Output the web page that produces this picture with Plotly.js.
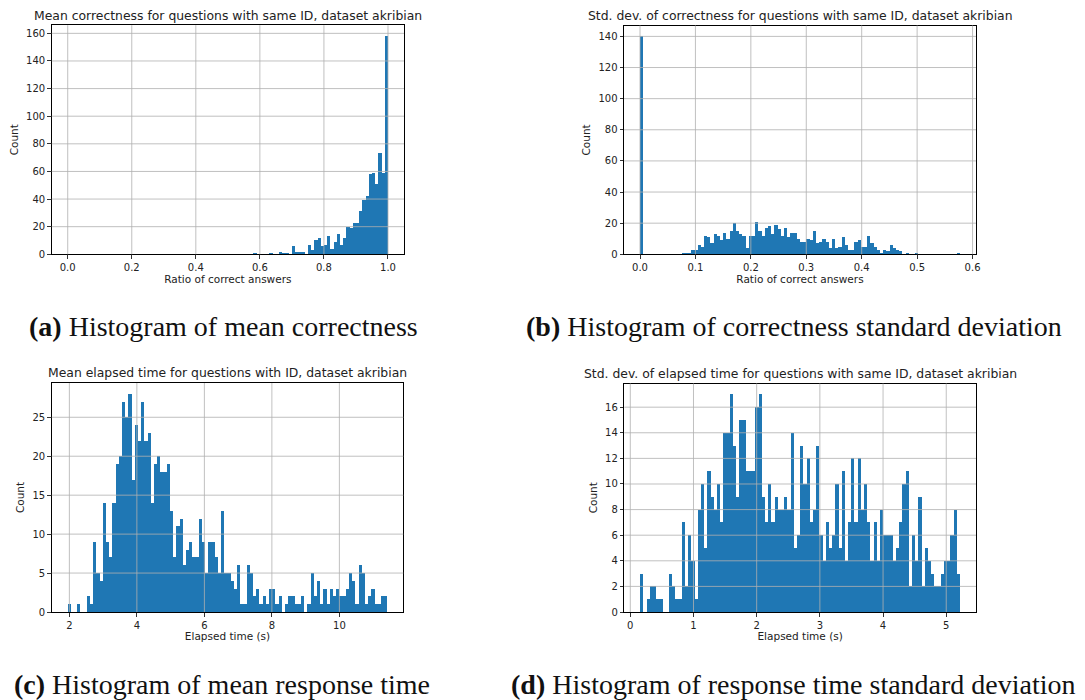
<!DOCTYPE html>
<html><head><meta charset="utf-8">
<script src="https://cdn.plot.ly/plotly-3.0.1.min.js"></script>
<style>html,body{margin:0;padding:0;background:#fff}#chart{width:1085px;height:700px}</style>
</head><body><div id="chart"></div>
<script>
// ---- (a) mean correctness: 100 bins on [0, 1]
const meanCorrBinStart = 0.0;
const meanCorrBinWidth = 0.01;
const meanCorrCounts = [
  0,0,0,0,0,0,0,0,0,0,
  0,0,0,0,0,0,0,0,0,0,
  0,0,0,0,0,0,0,0,0,0,
  0,0,0,0,0,0,0,0,0,0,
  0,0,0,0,0,0,0,0,0,0,
  0,0,0,0,0,0,0,0,1,0,
  0,0,0,1,0,0,2,1,1,0,
  6,2,2,2,0,7,3,10,12,6,
  7,13,4,9,15,7,12,20,19,23,
  23,31,39,42,58,59,51,73,59,158
];
// ---- (b) std. dev. of correctness: 100 bins on [0, 0.57735]
const stdCorrBinStart = 0.0;
const stdCorrBinWidth = 0.0057735;
const stdCorrCounts = [
  140,0,0,0,0,0,0,0,0,0,
  0,0,0,1,1,1,3,3,6,5,
  12,11,7,13,12,9,14,10,15,20,
  15,13,12,4,12,12,21,15,12,17,
  18,13,19,16,12,17,11,14,14,10,
  8,8,10,9,15,7,8,10,8,4,
  10,4,5,11,6,3,3,8,9,5,
  5,12,7,5,3,1,3,2,6,4,
  3,2,0,1,0,0,1,0,0,0,
  0,0,0,0,0,0,0,0,0,1
];
// ---- (c) mean elapsed time: 100 bins on [1.95, 11.42]
const meanTimeBinStart = 1.95;
const meanTimeBinWidth = 0.0947;
const meanTimeCounts = [
  1,0,0,1,0,0,2,1,9,5,
  4,14,9,7,14,19,20,27,25,28,
  17,24,22,27,22,23,14,19,20,18,
  18,19,13,7,11,12,6,8,9,7,
  7,12,9,5,9,9,7,5,13,5,
  5,4,3,6,1,1,6,5,2,3,
  1,2,1,3,3,1,2,0,1,2,
  2,1,1,2,0,1,5,2,4,1,
  3,1,3,2,3,2,2,3,5,4,
  1,6,5,1,2,3,1,1,2,2
];
// ---- (d) std. dev. of elapsed time: 100 bins on [0.158, 5.218]
const stdTimeBinStart = 0.158;
const stdTimeBinWidth = 0.0506;
const stdTimeCounts = [
  3,0,1,2,2,1,1,0,0,3,
  2,1,1,7,2,6,4,1,8,10,
  5,11,9,8,10,7,14,14,17,13,
  9,15,15,11,11,11,16,17,9,7,
  10,7,9,8,8,9,8,14,5,6,
  13,10,12,7,8,13,6,4,7,5,
  6,10,5,11,4,7,12,7,12,8,
  10,7,4,7,4,8,6,6,6,4,
  5,7,10,11,2,6,4,9,2,5,
  4,3,2,2,3,4,4,6,8,3
];

// ---- texts and ticks
const titles = [
  "Mean correctness for questions with same ID, dataset akribian",
  "Std. dev. of correctness for questions with same ID, dataset akribian",
  "Mean elapsed time for questions with ID, dataset akribian",
  "Std. dev. of elapsed time for questions with same ID, dataset akribian"
];
const xTitles = ["Ratio of correct answers", "Ratio of correct answers", "Elapsed time (s)", "Elapsed time (s)"];
const yTitle = "Count";
const captionLetters = ["(a)", "(b)", "(c)", "(d)"];
const captions = [
  "Histogram of mean correctness",
  "Histogram of correctness standard deviation",
  "Histogram of mean response time",
  "Histogram of response time standard deviation"
];
const xTicksA = [0, 0.2, 0.4, 0.6, 0.8, 1.0];
const yTicksA = [0, 20, 40, 60, 80, 100, 120, 140, 160];
const xTicksB = [0, 0.1, 0.2, 0.3, 0.4, 0.5, 0.6];
const yTicksB = [0, 20, 40, 60, 80, 100, 120, 140];
const xTicksC = [2, 4, 6, 8, 10];
const yTicksC = [0, 5, 10, 15, 20, 25];
const xTicksD = [0, 1, 2, 3, 4, 5];
const yTicksD = [0, 2, 4, 6, 8, 10, 12, 14, 16];

const W = 1085, H = 700;
const BLUE = '#1f77b4';
const GRID = '#b0b0b0';
const SANS = 'DejaVu Sans, sans-serif';
const SERIF = 'Liberation Serif, DejaVu Serif, serif';

function centers(start, width, counts) { return counts.map((_, i) => start + (i + 0.5) * width); }
function barTrace(start, width, counts, xa, ya) {
  return { type: 'bar', x: centers(start, width, counts), y: counts, width: width,
    xaxis: xa, yaxis: ya, marker: { color: BLUE, line: { width: 0 } }, hoverinfo: 'x+y', showlegend: false };
}
const data = [
  barTrace(meanCorrBinStart, meanCorrBinWidth, meanCorrCounts, 'x', 'y'),
  barTrace(stdCorrBinStart, stdCorrBinWidth, stdCorrCounts, 'x2', 'y2'),
  barTrace(meanTimeBinStart, meanTimeBinWidth, meanTimeCounts, 'x3', 'y3'),
  barTrace(stdTimeBinStart, stdTimeBinWidth, stdTimeCounts, 'x4', 'y4')
];

// pixel boxes of the four plot areas [left, right, top, bottom]
const boxes = [
  [51.7, 404.0, 25.2, 254.3],
  [624.0, 976.0, 25.5, 254.3],
  [51.7, 403.3, 383.0, 612.0],
  [624.3, 976.0, 383.5, 612.0]
];
function xdom(b) { return [b[0] / W, b[1] / W]; }
function ydom(b) { return [1 - b[3] / H, 1 - b[2] / H]; }

const axCommon = {
  showgrid: false, zeroline: false, showline: true, mirror: true, linecolor: '#000', linewidth: 1,
  ticks: 'outside', ticklen: 3.5, tickwidth: 0.8, tickcolor: '#000',
  tickfont: { family: SANS, size: 10, color: '#222' }, automargin: false, fixedrange: true
};
function xAxis(i, range, ticks, fmt, yId) {
  return Object.assign({}, axCommon, { domain: xdom(boxes[i]), anchor: yId, range: range,
    tickmode: 'array', tickvals: ticks, tickformat: fmt,
    title: { text: xTitles[i], font: { family: SANS, size: 10.5, color: '#222' }, standoff: 3 } });
}
function yAxis(i, range, ticks, xId) {
  return Object.assign({}, axCommon, { domain: ydom(boxes[i]), anchor: xId, range: range,
    tickmode: 'array', tickvals: ticks,
    title: { text: yTitle, font: { family: SANS, size: 10.5, color: '#222' }, standoff: 5 } });
}

const rangesX = [[-0.05, 1.05], [-0.028868, 0.606218], [1.4765, 11.8935], [-0.095, 5.471]];
const rangesY = [[0, 165.9], [0, 147], [0, 29.4], [0, 17.85]];
const xTickSets = [xTicksA, xTicksB, xTicksC, xTicksD];
const yTickSets = [yTicksA, yTicksB, yTicksC, yTicksD];
const fmts = ['.1f', '.1f', 'd', 'd'];
const ids = ['', '2', '3', '4'];

const layout = { width: W, height: H, margin: { l: 0, r: 0, t: 0, b: 0 },
  paper_bgcolor: '#fff', plot_bgcolor: '#fff', bargap: 0, barmode: 'overlay', showlegend: false,
  shapes: [], annotations: [] };

for (let i = 0; i < 4; i++) {
  const xk = 'xaxis' + ids[i], yk = 'yaxis' + ids[i];
  const xId = 'x' + ids[i], yId = 'y' + ids[i];
  layout[xk] = xAxis(i, rangesX[i], xTickSets[i], fmts[i], yId);
  layout[yk] = yAxis(i, rangesY[i], yTickSets[i], xId);
  // grid lines drawn over the bars (matplotlib default)
  xTickSets[i].forEach(t => layout.shapes.push({ type: 'line', layer: 'above', xref: xId, yref: yId + ' domain',
    x0: t, x1: t, y0: 0, y1: 1, line: { color: GRID, width: 0.8 } }));
  yTickSets[i].filter(t => t > 0).forEach(t => layout.shapes.push({ type: 'line', layer: 'above', xref: xId + ' domain', yref: yId,
    x0: 0, x1: 1, y0: t, y1: t, line: { color: GRID, width: 0.8 } }));
  const b = boxes[i];
  layout.annotations.push({ xref: 'paper', yref: 'paper', x: (b[0] + b[1]) / 2 / W, y: 1 - (b[2] - 10) / H,
    xanchor: 'center', yanchor: 'middle', showarrow: false, text: titles[i],
    font: { family: SANS, size: 12.4, color: '#222' } });
}
const capX = [223.5, 794, 221.5, 793];
const capY = [326, 326, 684, 684];
for (let i = 0; i < 4; i++) {
  layout.annotations.push({ xref: 'paper', yref: 'paper', x: capX[i] / W, y: 1 - capY[i] / H,
    xanchor: 'center', yanchor: 'middle', showarrow: false,
    text: '<b>' + captionLetters[i] + '</b> ' + captions[i],
    font: { family: SERIF, size: 28, color: '#111' } });
}

Plotly.newPlot('chart', data, layout, { displayModeBar: false, staticPlot: true });
</script>
</body></html>
